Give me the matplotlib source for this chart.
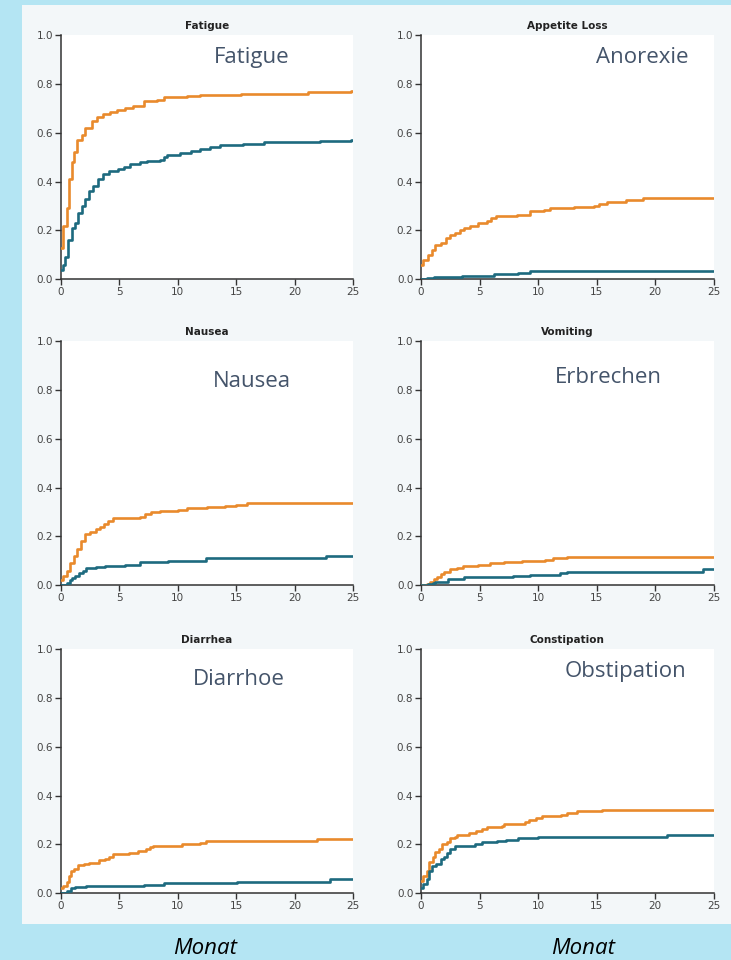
import matplotlib
matplotlib.use("Agg")
import matplotlib.pyplot as plt
from matplotlib.patches import Rectangle

# colours
bg_blue = '#b4e5f3'
panel_bg = '#f3f7f9'
orange = '#e98a2c'
teal = '#1d6a7f'
label_col = '#44546a'

# ---- data: (month, cumulative incidence) ----
fat_o_x = [0, 0.23, 0.5, 0.75, 0.95, 1.15, 1.4, 1.8, 2.1, 2.65, 3.1, 3.65, 4.2, 4.8, 5.5, 6.2, 7.1, 8.2, 8.8, 10.8, 11.9, 15.4, 21.1, 24.8, 25]
fat_o_y = [0.13, 0.22, 0.29, 0.41, 0.48, 0.52, 0.57, 0.59, 0.62, 0.65, 0.665, 0.675, 0.685, 0.695, 0.70, 0.71, 0.73, 0.735, 0.745, 0.75, 0.755, 0.76, 0.765, 0.772, 0.772]
fat_t_x = [0, 0.23, 0.37, 0.65, 0.95, 1.2, 1.5, 1.8, 2.1, 2.4, 2.8, 3.2, 3.65, 4.1, 4.9, 5.4, 5.9, 6.8, 7.4, 8.5, 8.8, 9.1, 10.2, 11.1, 11.9, 12.8, 13.6, 15.6, 17.4, 22.2, 24.8, 25]
fat_t_y = [0.04, 0.06, 0.09, 0.16, 0.21, 0.23, 0.27, 0.30, 0.33, 0.36, 0.38, 0.41, 0.43, 0.445, 0.45, 0.46, 0.47, 0.48, 0.485, 0.49, 0.50, 0.51, 0.515, 0.525, 0.535, 0.54, 0.548, 0.553, 0.56, 0.566, 0.572, 0.572]

app_o_x = [0, 0.2, 0.6, 0.9, 1.2, 1.7, 2.1, 2.5, 2.9, 3.3, 3.7, 4.2, 4.9, 5.6, 6.0, 6.4, 8.2, 9.3, 10.5, 11.0, 13.1, 14.8, 15.2, 15.9, 17.5, 19.0, 25]
app_o_y = [0.06, 0.08, 0.10, 0.12, 0.14, 0.15, 0.17, 0.18, 0.19, 0.20, 0.21, 0.22, 0.23, 0.24, 0.25, 0.26, 0.265, 0.28, 0.285, 0.29, 0.295, 0.30, 0.31, 0.315, 0.325, 0.333, 0.333]
app_t_x = [0, 0.5, 1.1, 3.5, 6.2, 8.3, 9.3, 25]
app_t_y = [0, 0.005, 0.01, 0.015, 0.02, 0.025, 0.032, 0.032]

nau_o_x = [0, 0.2, 0.5, 0.8, 1.1, 1.4, 1.7, 2.1, 2.5, 3.0, 3.4, 3.7, 4.0, 4.5, 6.8, 7.2, 7.7, 8.5, 10.0, 10.8, 12.5, 14.0, 15.0, 15.9, 25]
nau_o_y = [0.02, 0.04, 0.06, 0.09, 0.12, 0.15, 0.18, 0.21, 0.22, 0.23, 0.24, 0.25, 0.265, 0.275, 0.28, 0.29, 0.30, 0.305, 0.31, 0.315, 0.32, 0.325, 0.33, 0.335, 0.335]
nau_t_x = [0, 0.5, 0.8, 1.0, 1.2, 1.6, 1.9, 2.2, 3.0, 3.8, 5.5, 6.8, 9.2, 12.4, 22.7, 25]
nau_t_y = [0, 0.01, 0.02, 0.03, 0.04, 0.05, 0.06, 0.07, 0.075, 0.08, 0.085, 0.095, 0.10, 0.11, 0.12, 0.12]

vom_o_x = [0, 0.5, 0.8, 1.1, 1.4, 1.7, 2.0, 2.5, 3.1, 3.6, 4.9, 5.9, 7.1, 8.6, 10.6, 11.3, 12.5, 25]
vom_o_y = [0, 0.005, 0.015, 0.025, 0.035, 0.045, 0.055, 0.065, 0.07, 0.078, 0.085, 0.09, 0.095, 0.10, 0.105, 0.11, 0.116, 0.116]
vom_t_x = [0, 0.6, 1.0, 1.2, 2.3, 3.7, 7.9, 9.3, 11.9, 12.5, 24.1, 25]
vom_t_y = [0, 0.005, 0.01, 0.015, 0.026, 0.032, 0.038, 0.044, 0.049, 0.056, 0.068, 0.068]

dia_o_x = [0, 0.2, 0.5, 0.7, 0.9, 1.1, 1.5, 2.0, 2.4, 3.3, 3.8, 4.1, 4.5, 5.8, 6.6, 7.3, 7.6, 7.9, 10.4, 11.9, 12.4, 21.9, 25]
dia_o_y = [0.02, 0.03, 0.045, 0.07, 0.09, 0.10, 0.115, 0.12, 0.125, 0.135, 0.14, 0.15, 0.16, 0.165, 0.175, 0.18, 0.19, 0.195, 0.20, 0.205, 0.214, 0.222, 0.222]
dia_t_x = [0, 0.5, 0.9, 1.2, 2.2, 7.1, 8.8, 15.1, 23.0, 25]
dia_t_y = [0, 0.01, 0.02, 0.027, 0.031, 0.035, 0.041, 0.048, 0.057, 0.057]

con_o_x = [0, 0.2, 0.5, 0.7, 1.0, 1.2, 1.5, 1.8, 2.2, 2.5, 2.9, 3.1, 4.1, 4.7, 5.2, 5.6, 6.9, 7.1, 8.9, 9.2, 9.8, 10.3, 12.0, 12.5, 13.3, 15.5, 25]
con_o_y = [0.05, 0.07, 0.09, 0.13, 0.15, 0.17, 0.18, 0.20, 0.21, 0.225, 0.23, 0.24, 0.245, 0.255, 0.265, 0.27, 0.275, 0.285, 0.29, 0.30, 0.31, 0.315, 0.32, 0.33, 0.335, 0.34, 0.34]
con_t_x = [0, 0.2, 0.5, 0.7, 0.9, 1.3, 1.7, 2.0, 2.2, 2.5, 2.9, 4.6, 5.2, 6.5, 7.3, 8.3, 10.0, 21.0, 25]
con_t_y = [0.02, 0.04, 0.06, 0.09, 0.11, 0.12, 0.14, 0.15, 0.165, 0.18, 0.195, 0.20, 0.21, 0.215, 0.22, 0.225, 0.232, 0.238, 0.238]

titles = ['Fatigue', 'Appetite Loss', 'Nausea', 'Vomiting', 'Diarrhea', 'Constipation']
german = ['Fatigue', 'Anorexie', 'Nausea', 'Erbrechen', 'Diarrhoe', 'Obstipation']
orange_series = [(fat_o_x, fat_o_y), (app_o_x, app_o_y), (nau_o_x, nau_o_y),
                 (vom_o_x, vom_o_y), (dia_o_x, dia_o_y), (con_o_x, con_o_y)]
teal_series = [(fat_t_x, fat_t_y), (app_t_x, app_t_y), (nau_t_x, nau_t_y),
               (vom_t_x, vom_t_y), (dia_t_x, dia_t_y), (con_t_x, con_t_y)]

fig = plt.figure(figsize=(7.31, 9.60), dpi=100)
fig.patch.set_facecolor(bg_blue)
# light panel behind the charts
fig.patches.append(Rectangle((22/731, 1-924/960), 1-22/731, 919/960,
                             transform=fig.transFigure, facecolor=panel_bg,
                             edgecolor='none', zorder=-10))

lefts = [60.7/731, 421/731]
width = 292.5/731
bottoms = [1-279.3/960, 1-585.3/960, 1-893.3/960]
height = 244.3/960

# where the German labels sit (figure fraction)
german_pos = [(0.3447, 0.9396), (0.8782, 0.9396), (0.3447, 0.6021),
              (0.8327, 0.6063), (0.327, 0.2917), (0.855, 0.3003)]

for i in range(6):
    r, c = divmod(i, 2)
    ax = fig.add_axes([lefts[c], bottoms[r], width, height])
    ax.set_facecolor('white')
    ox, oy = orange_series[i]
    tx, ty = teal_series[i]
    ax.step(ox, oy, where='post', color=orange, lw=1.9, zorder=3)
    ax.step(tx, ty, where='post', color=teal, lw=1.9, zorder=3)
    ax.set_xlim(0, 25)
    ax.set_ylim(0, 1.0)
    ax.set_xticks([0, 5, 10, 15, 20, 25])
    ax.set_yticks([0.0, 0.2, 0.4, 0.6, 0.8, 1.0])
    ax.set_yticklabels(['0.0', '0.2', '0.4', '0.6', '0.8', '1.0'])
    for s in ['top', 'right']:
        ax.spines[s].set_visible(False)
    for s in ['left', 'bottom']:
        ax.spines[s].set_color('#333333')
        ax.spines[s].set_linewidth(1.1)
    ax.tick_params(direction='out', length=4, width=1, color='#333333',
                   labelsize=7.5, labelcolor='#444444', pad=1.5)
    ax.set_title(titles[i], fontsize=7.5, fontweight='bold', color='#222222', pad=4)
    gx, gy = german_pos[i]
    fig.text(gx, gy, german[i], ha='center', va='center', fontsize=16,
             family='Open Sans', color=label_col)

fig.text(0.2809, 0.0125, 'Monat', ha='center', va='center', fontsize=16,
         family='Open Sans', style='italic', color='black')
fig.text(0.798, 0.0125, 'Monat', ha='center', va='center', fontsize=16,
         family='Open Sans', style='italic', color='black')

fig.savefig('out.png', dpi=100, facecolor=fig.get_facecolor())
